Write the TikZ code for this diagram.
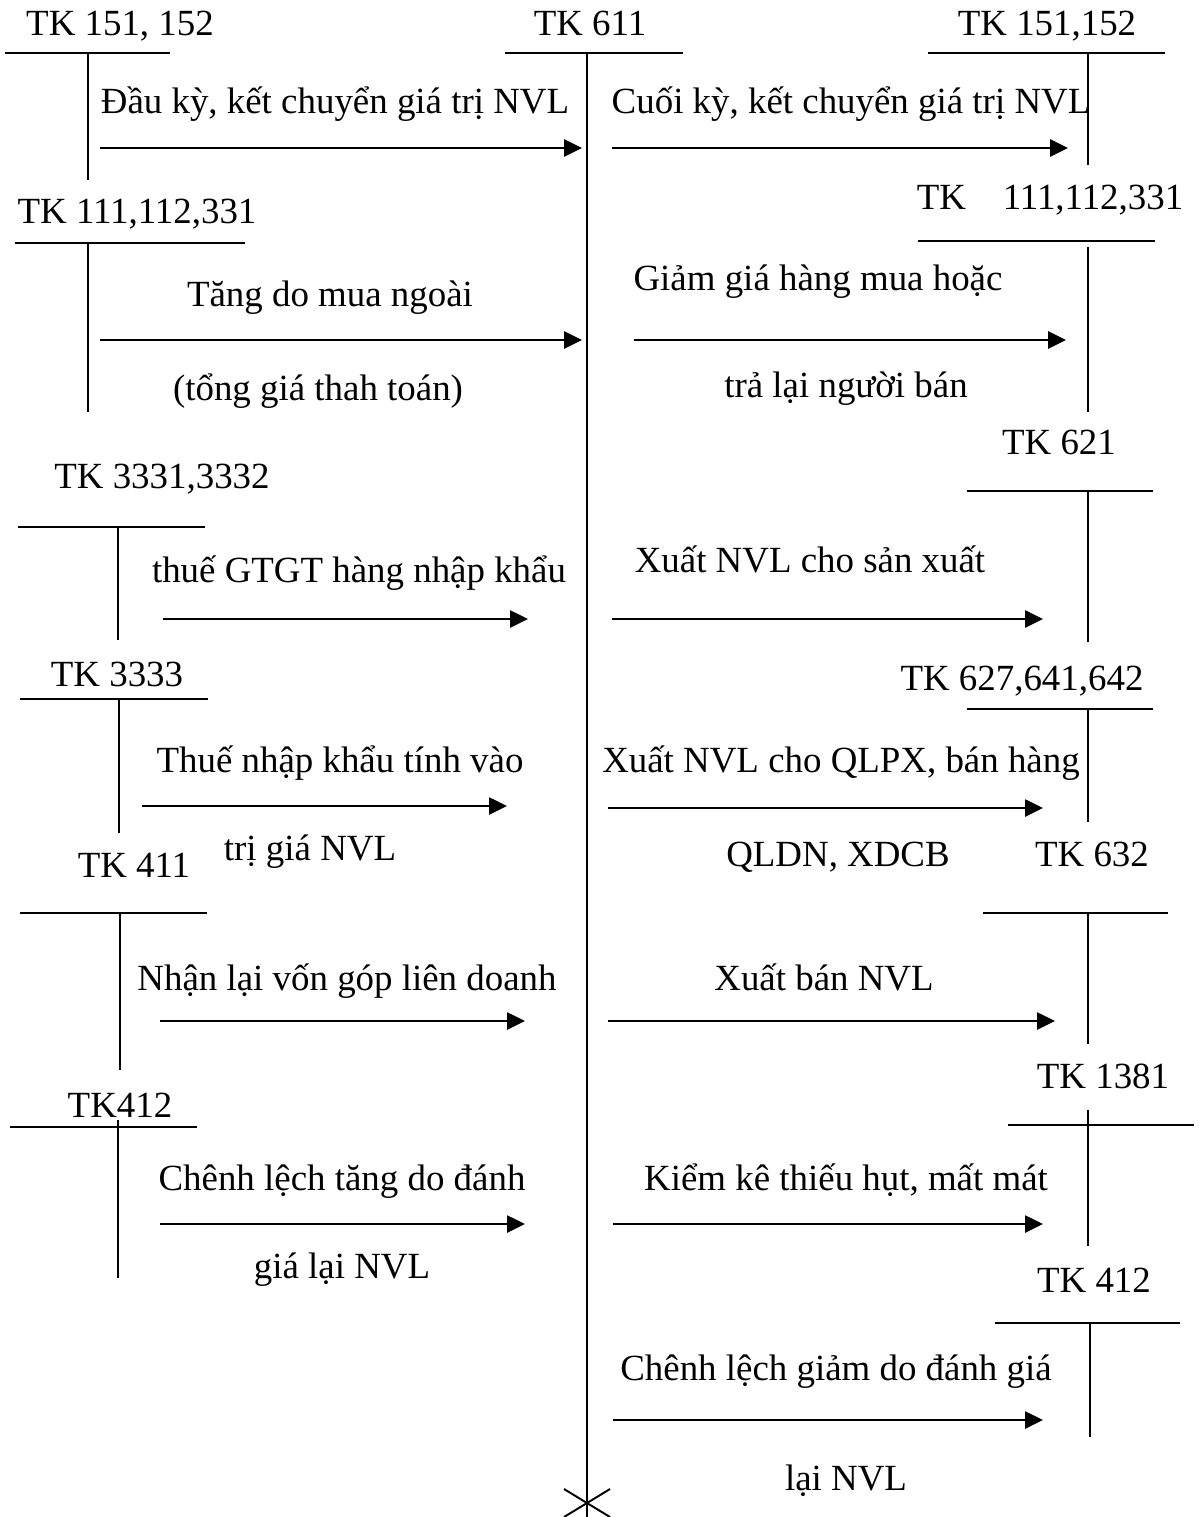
\documentclass[tikz,border=0pt]{standalone}
\usepackage{fontspec}
\setmainfont{Liberation Serif}
\usepackage{tikz}
\usetikzlibrary{arrows.meta}

\begin{document}
\begin{tikzpicture}[x=0.02cm,y=-0.02cm,
  every node/.style={font=\fontsize{21}{25}\selectfont,inner sep=0pt,anchor=base},
  flow/.style={-{Triangle[length=0.36cm,width=0.34cm]},line width=1.5pt},
  tline/.style={line width=1.4pt},
  vline/.style={line width=1.1pt}]
\useasboundingbox (0,0) rectangle (1203,1517);
% tai khoan 611 o giua
\draw[tline] (505,53)--(683,53);
\draw[vline] (587,53)--(587,1517);
\draw[vline] (564,1489)--(610,1517) (564,1517)--(610,1489);
\node (tk611) at (590,36) {TK 611};
% cac chu T ben trai: x1/x2/y ngang/x doc/y dau/y cuoi
\foreach \xa/\xb/\yh/\xv/\ya/\yb in {5/170/53/88/53/180, 15/245/243/88/243/412,
  18/205/527/118/527/640, 20/208/699/119/699/833, 20/207/913/120/913/1070,
  10/197/1127/118/1120/1278}
  \draw[tline] (\xa,\yh)--(\xb,\yh) [vline] (\xv,\ya)--(\xv,\yb);
% cac chu T ben phai
\foreach \xa/\xb/\yh/\xv/\ya/\yb in {928/1165/53/1088/53/165, 918/1155/241/1088/247/412,
  967/1153/491/1088/491/642, 967/1153/709/1088/709/822, 983/1168/913/1088/913/1044,
  1008/1194/1125/1088/1110/1246, 995/1180/1323/1090/1323/1437}
  \draw[tline] (\xa,\yh)--(\xb,\yh) [vline] (\xv,\ya)--(\xv,\yb);
% cac mui ten
\foreach \n/\xa/\xb/\y in {l1/100/582/148, l2/100/582/340, l3/163/528/619,
  l4/142/507/806, l5/160/525/1021, l6/160/525/1224,
  r1/612/1068/148, r2/634/1066/340, r3/612/1043/619, r4/608/1043/808,
  r5/608/1055/1021, r6/613/1043/1224, r7/613/1043/1420}
{
  \coordinate (\n s) at (\xa,\y);
  \coordinate (\n e) at (\xb,\y);
  \draw[flow] (\n s)--(\n e);
}
% ten tai khoan ben trai
\node (tkl1) at (120,36) {TK 151, 152};
\node (tkl2) at (137,224) {TK 111,112,331};
\node (tkl3) at (162,488) {TK 3331,3332};
\node (tkl4) at (117,686) {TK 3333};
\node (tkl5) at (134,877) {TK 411};
\node (tkl6) at (120,1117) {TK412};
% ten tai khoan ben phai
\node (tkr1) at (1047,36) {TK 151,152};
\node (tkr2) at (1050,210) {TK\hspace{1em}111,112,331};
\node (tkr3) at (1059,454) {TK 621};
\node (tkr4) at (1022,690) {TK 627,641,642};
\node (tkr5) at (1092,866) {TK 632};
\node (tkr6) at (1103,1088) {TK 1381};
\node (tkr7) at (1094,1292) {TK 412};
% dien giai ben trai
\node (dl1) at (335,114) {Đầu kỳ, kết chuyển giá trị NVL};
\node (dl2) at (330,306) {Tăng do mua ngoài};
\node (dl2b) at (318,400) {(tổng giá thah toán)};
\node (dl3) at (359,582) {thuế GTGT hàng nhập khẩu};
\node (dl4) at (340,772) {Thuế nhập khẩu tính vào};
\node (dl4b) at (310,860) {trị giá NVL};
\node (dl5) at (347,990) {Nhận lại vốn góp liên doanh};
\node (dl6) at (342,1190) {Chênh lệch tăng do đánh};
\node (dl6b) at (342,1278) {giá lại NVL};
% dien giai ben phai
\node (dr1) at (851,114) {Cuối kỳ, kết chuyển giá trị NVL};
\node (dr2) at (818,290) {Giảm giá hàng mua hoặc};
\node (dr2b) at (846,397) {trả lại người bán};
\node (dr3) at (810,572) {Xuất NVL cho sản xuất};
\node (dr4) at (841,772) {Xuất NVL cho QLPX, bán hàng};
\node (dr4b) at (838,866) {QLDN, XDCB};
\node (dr5) at (824,990) {Xuất bán NVL};
\node (dr6) at (846,1190) {Kiểm kê thiếu hụt, mất mát};
\node (dr7) at (836,1380) {Chênh lệch giảm do đánh giá};
\node (dr7b) at (846,1490) {lại NVL};
\end{tikzpicture}
\end{document}
